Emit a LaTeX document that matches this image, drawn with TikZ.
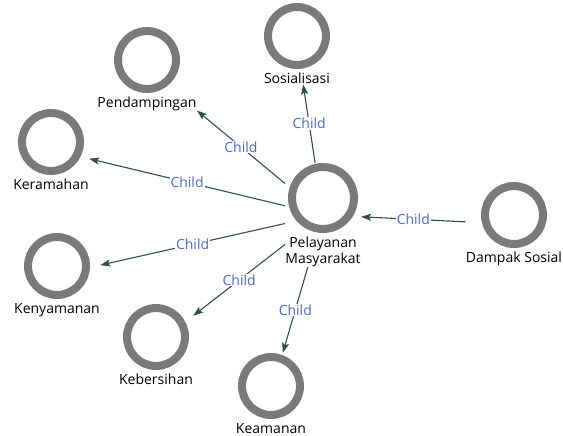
\documentclass[tikz,border=0pt]{standalone}
\usepackage{fontspec}
\setmainfont{Open Sans}
\usepackage{tikz}
\usetikzlibrary{arrows.meta, positioning, fit}
\definecolor{ringc}{HTML}{7A7A7A}
\definecolor{edgec}{HTML}{2F4F4F}
\definecolor{childc}{HTML}{4B6BD1}
\newcommand{\vertex}[4]{%
  \node[ring, minimum size=#3] (#1c) at #2 {};
  \node[vlabel, below=4pt of #1c] (#1l) {#4};
  \node[fit=(#1c)(#1l), inner sep=0pt] (#1) {};
}

\begin{document}
\begin{tikzpicture}[x=1pt, y=1pt, >={Stealth[length=10pt, width=7pt, inset=2pt]},
      ring/.style={circle, draw=ringc, line width=8pt, inner sep=0pt},
      vlabel/.style={inner sep=0pt, align=center, font=\fontsize{14}{15.5}\selectfont},
      edge/.style={->, edgec, line width=1.1pt},
      childlbl/.style={midway, fill=white, text=childc, inner sep=1pt,
                       font=\fontsize{14}{15.5}\selectfont}]
    \useasboundingbox (0,0) rectangle (563,436);
    \vertex{pel}{(323,238)}{62pt}{Pelayanan\\Masyarakat}
    \vertex{sos}{(297,400)}{58pt}{Sosialisasi}
    \vertex{pen}{(147,376)}{58pt}{Pendampingan}
    \vertex{ker}{(51,294)}{58pt}{Keramahan}
    \vertex{keny}{(57,170)}{58pt}{Kenyamanan}
    \vertex{keb}{(156,99)}{58pt}{Kebersihan}
    \vertex{kea}{(271,50)}{58pt}{Keamanan}
    \vertex{dam}{(514,221)}{58pt}{Dampak Sosial}
    % edges from the centre
    \foreach \t in {sos,pen,ker,keny,keb,kea}
      \draw[edge] (pel) -- node[childlbl] {Child} (\t);
    \draw[edge] (dam) -- node[childlbl] {Child} (pel);
  \end{tikzpicture}
\end{document}
